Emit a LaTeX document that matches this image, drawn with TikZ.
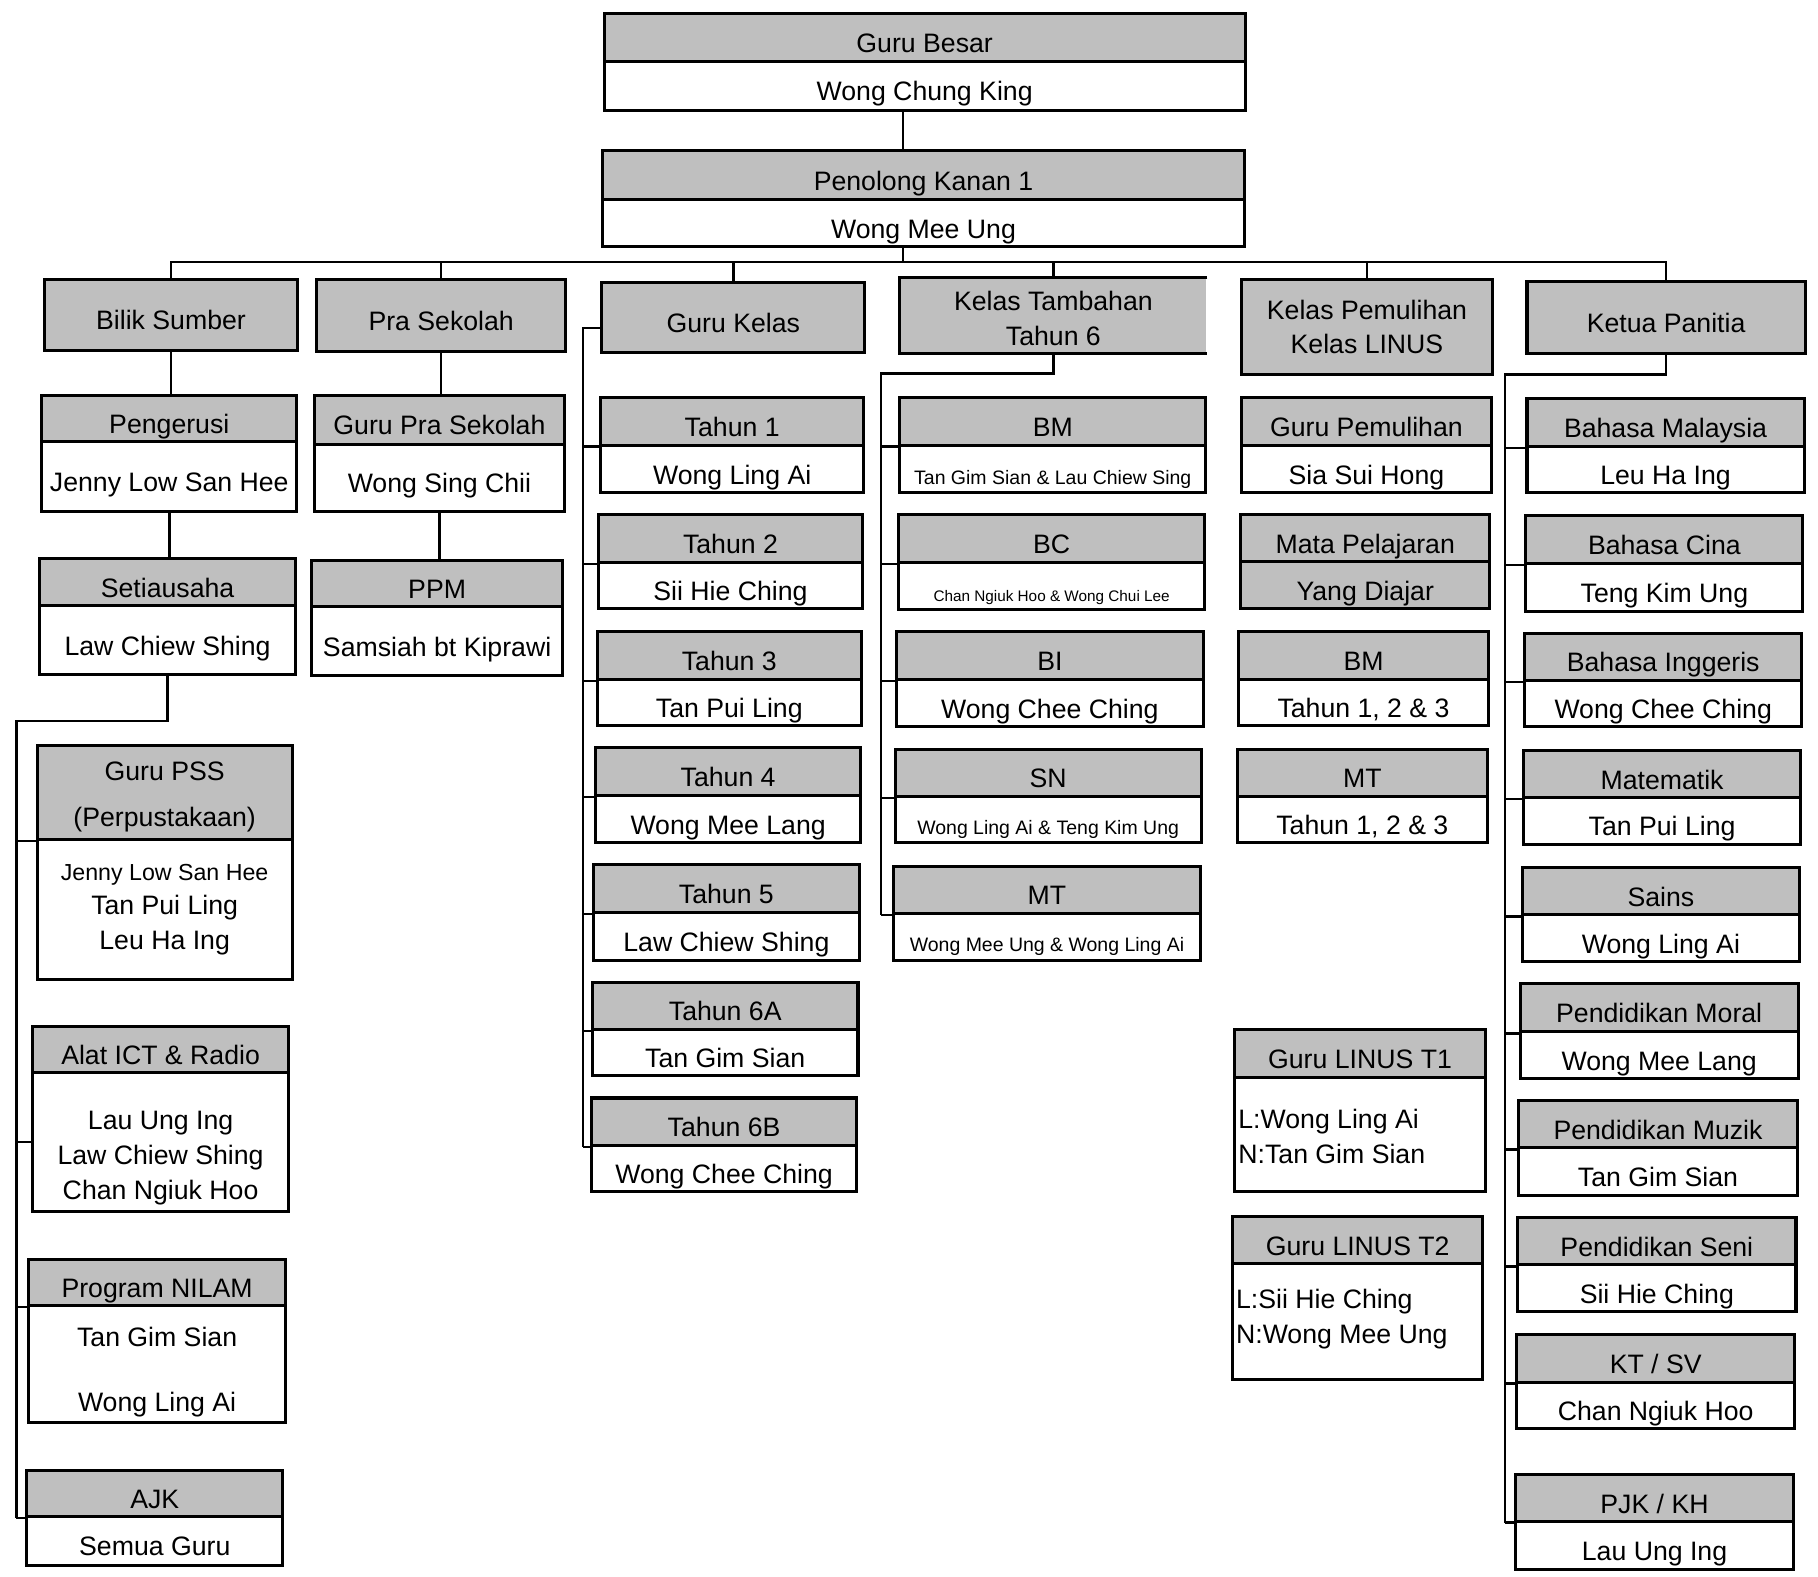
\documentclass[tikz,border=0pt]{standalone}
\usepackage{fontspec}
\setmainfont{Liberation Sans}
\usetikzlibrary{fit}
\newcommand\nfs{\fontsize{11.5}{15}\selectfont}
\newcommand\smf{\fontsize{8.4}{10}\selectfont}
\newcommand\tnf{\fontsize{6.6}{8}\selectfont}
\tikzset{
  box/.style={draw, line width=1.3pt, inner sep=0pt},
  hd/.style={box, fill=gray!50},
  bd/.style={box, fill=white},
  txt/.style={inner sep=0pt, align=center, font=\nfs},
  ln/.style={line width=1.1pt},
}
\newcommand\obox[8]{%
  \node[hd, fit={(#2,#4) (#3,#5)}] (#1t) {};
  \node[bd, fit={(#2,#5) (#3,#6)}] (#1b) {};
  \node[txt, anchor=base, yshift=-6.5pt] (#1tx) at (#1t.center) {#7};
  \node[txt, anchor=base, yshift=-6.5pt] (#1bx) at (#1b.center) {#8};
}
\begin{document}
\begin{tikzpicture}[x=0.5pt, y=-0.5pt]
\useasboundingbox (0,0) rectangle (1568,1360);
\fill[white] (0,0) rectangle (1568,1360);

% top
\obox{gb}{521}{1074}{12}{53}{95}{Guru Besar}{Wong Chung King}
\obox{pk}{520}{1073}{130}{172}{213}{Penolong Kanan 1}{Wong Mee Ung}

% column headers
\node[hd, fit={(38,241) (257,302)}] (bs) {};
\node[txt, anchor=base, yshift=-6.5pt] (bsx) at (bs.center) {Bilik Sumber};
\node[hd, fit={(273,241) (488,303)}] (ps) {};
\node[txt, anchor=base, yshift=-6.5pt] (psx) at (ps.center) {Pra Sekolah};
\node[hd, fit={(519,244) (746,304)}] (gk) {};
\node[txt, anchor=base, yshift=-6.5pt] (gkx) at (gk.center) {Guru Kelas};
\node[hd, draw=none, fit={(777,241) (1040,304)}] (kt) {};
\draw[line width=1.3pt] (kt.north east) -- (kt.north west) -- (kt.south west) -- (kt.south east);
\node[txt, yshift=-1pt] (ktx) at (kt.center) {Kelas Tambahan\\Tahun 6};
\node[hd, fit={(1071,241) (1287,323)}] (kpl) {};
\node[txt, yshift=0pt] (kplx) at (kpl.center) {Kelas Pemulihan\\Kelas LINUS};
\node[hd, fit={(1317,243) (1557,305)}] (kpn) {};
\node[txt, anchor=base, yshift=-6.5pt] (kpnx) at (kpn.center) {Ketua Panitia};

% column 1
\obox{peng}{36}{256}{341}{381}{441}{Pengerusi}{Jenny Low San Hee}
\obox{seti}{34}{255}{482}{522}{582}{Setiausaha}{Law Chiew Shing}
\node[hd, fit={(32,643) (252,724)}] (psst) {};
\node[bd, fit={(32,724) (252,845)}] (pssb) {};
\node[txt, yshift=-2pt] (psstx) at (psst.center) {Guru PSS\\[5pt](Perpustakaan)};
\node[txt, yshift=0pt] (pssbx) at (pssb.center) {{\fontsize{10}{15}\selectfont Jenny Low San Hee}\\Tan Pui Ling\\Leu Ha Ing};
\node[hd, fit={(28,885) (249,925)}] (ictt) {};
\node[bd, fit={(28,925) (249,1045)}] (ictb) {};
\node[txt, anchor=base, yshift=-6.5pt] (ictx) at (ictt.center) {Alat ICT \& Radio};
\node[txt, yshift=-7pt] (ictbx) at (ictb.center) {Lau Ung Ing\\Law Chiew Shing\\Chan Ngiuk Hoo};
\node[hd, fit={(25,1086) (246,1126)}] (nilt) {};
\node[bd, fit={(25,1126) (246,1227)}] (nilb) {};
\node[txt, anchor=base, yshift=-6.5pt] (niltx) at (nilt.center) {Program NILAM};
\node[txt, yshift=-3.5pt] (nilbx) at (nilb.center) {Tan Gim Sian\\[13pt]Wong Ling Ai};
\obox{ajk}{23}{244}{1268}{1308}{1350}{AJK}{Semua Guru}

% column 2
\obox{gps}{271}{487}{341}{383}{441}{Guru Pra Sekolah}{Wong Sing Chii}
\obox{ppm}{269}{485}{483}{523}{583}{PPM}{Samsiah bt Kiprawi}

% column 3
\obox{ta}{518}{745}{343}{384}{425}{Tahun 1}{Wong Ling Ai}
\obox{tb}{516}{744}{444}{485}{525}{Tahun 2}{Sii Hie Ching}
\obox{tc}{515}{743}{545}{586}{626}{Tahun 3}{Tan Pui Ling}
\obox{td}{514}{742}{645}{686}{727}{Tahun 4}{Wong Mee Lang}
\obox{te}{512}{741}{746}{787}{828}{Tahun 5}{Law Chiew Shing}
\obox{tf}{511}{740}{847}{888}{928}{Tahun 6A}{Tan Gim Sian}
\obox{tg}{510}{739}{947}{988}{1028}{Tahun 6B}{Wong Chee Ching}

% column 4
\obox{kbm}{776}{1040}{343}{384}{425}{BM}{\smf Tan Gim Sian \& Lau Chiew Sing}
\obox{kbc}{775}{1039}{444}{485}{526}{BC}{\tnf Chan Ngiuk Hoo \& Wong Chui Lee}
\obox{kbi}{773}{1038}{545}{586}{627}{BI}{Wong Chee Ching}
\obox{ksn}{772}{1036}{646}{687}{727}{SN}{\smf Wong Ling Ai \& Teng Kim Ung}
\obox{kmt}{771}{1035}{747}{788}{828}{MT}{\smf Wong Mee Ung \& Wong Ling Ai}

% column 5
\obox{gpm}{1071}{1286}{343}{384}{425}{Guru Pemulihan}{Sia Sui Hong}
\node[hd, fit={(1070,444) (1285,484)}] (mpa) {};
\node[hd, fit={(1070,484) (1285,525)}] (mpb) {};
\node[txt, anchor=base, yshift=-6.5pt] (mpax) at (mpa.center) {Mata Pelajaran};
\node[txt, anchor=base, yshift=-6.5pt] (mpbx) at (mpb.center) {Yang Diajar};
\obox{pbm}{1068}{1284}{545}{586}{626}{BM}{Tahun 1, 2 \& 3}
\obox{pmt}{1067}{1283}{646}{687}{727}{MT}{Tahun 1, 2 \& 3}
\node[hd, fit={(1065,888) (1281,929)}] (lat) {};
\node[bd, fit={(1065,929) (1281,1028)}] (lab) {};
\node[txt, anchor=base, yshift=-6.5pt] (latx) at (lat.center) {Guru LINUS T1};
\node[txt, align=left, anchor=west, xshift=2pt, yshift=-1pt] (labx) at (lab.west) {L:Wong Ling Ai\\N:Tan Gim Sian};
\node[hd, fit={(1063,1049) (1279,1090)}] (lbt) {};
\node[bd, fit={(1063,1090) (1279,1190)}] (lbb) {};
\node[txt, anchor=base, yshift=-6.5pt] (lbtx) at (lbt.center) {Guru LINUS T2};
\node[txt, align=left, anchor=west, xshift=2pt, yshift=1pt] (lbbx) at (lbb.west) {L:Sii Hie Ching\\N:Wong Mee Ung};

% column 6
\obox{pa}{1317}{1556}{344}{385}{425}{Bahasa Malaysia}{Leu Ha Ing}
\obox{pb}{1316}{1555}{445}{486}{527}{Bahasa Cina}{Teng Kim Ung}
\obox{pc}{1315}{1554}{546}{587}{627}{Bahasa Inggeris}{Wong Chee Ching}
\obox{pd}{1314}{1553}{647}{688}{728}{Matematik}{Tan Pui Ling}
\obox{pe}{1313}{1552}{748}{789}{829}{Sains}{Wong Ling Ai}
\obox{pf}{1311}{1551}{848}{890}{930}{Pendidikan Moral}{Wong Mee Lang}
\obox{pg}{1310}{1550}{949}{990}{1031}{Pendidikan Muzik}{Tan Gim Sian}
\obox{ph}{1309}{1549}{1050}{1091}{1131}{Pendidikan Seni}{Sii Hie Ching}
\obox{pi}{1308}{1548}{1151}{1192}{1232}{KT / SV}{Chan Ngiuk Hoo}
\obox{pj}{1307}{1547}{1272}{1312}{1354}{PJK / KH}{Lau Ung Ing}

% connectors
\coordinate (c0) at (779,226);
\draw[ln] (gbb.south -| c0) -- (pkt.north -| c0);
\draw[ln] (pkb.south -| c0) -- (c0);
\draw[ln] (bs.north) |- (c0) -| (kpn.north);
\foreach \n in {ps,gk,kt,kpl} \draw[ln] (\n.north) -- (\n.north |- c0);

% col 1
\draw[ln] (bs.south) -- (bs.south |- pengt.north);
\draw[ln] (pengb.south) -- (pengb.south |- setit.north);
\coordinate (b1) at (14,622);
\draw[ln] (setib.south) |- (b1) -- (b1 |- ajkt.south);
\foreach \n in {psst,nilt,ajkt} \draw[ln] (\n.south west) -- (\n.south west -| b1);
\draw[ln] (ictb.west) -- (ictb.west -| b1);

% col 2
\draw[ln] (ps.south) -- (ps.south |- gpst.north);
\draw[ln] (gpsb.south) -- (gpsb.south |- ppmt.north);

% col 3
\coordinate (b3) at (503,283);
\draw[ln] (gk.west |- b3) -- (b3) -- (b3 |- tgt.south);
\foreach \n in {ta,tb,tc,td,te,tf,tg} \draw[ln] (\n t.south west) -- (\n t.south west -| b3);

% col 4
\coordinate (b4) at (760,322);
\draw[ln] (kt.south) |- (b4) -- (b4 |- kmtt.south);
\foreach \n in {kbm,kbc,kbi,ksn,kmt} \draw[ln] (\n t.south west) -- (\n t.south west -| b4);

% col 6
\coordinate (b6) at (1298,323);
\draw[ln] (kpn.south) |- (b6) -- (b6 |- pjt.south);
\foreach \n in {pa,pb,pc,pd,pe,pf,pg,ph,pi,pj} \draw[ln] (\n t.south west) -- (\n t.south west -| b6);
\end{tikzpicture}
\end{document}
